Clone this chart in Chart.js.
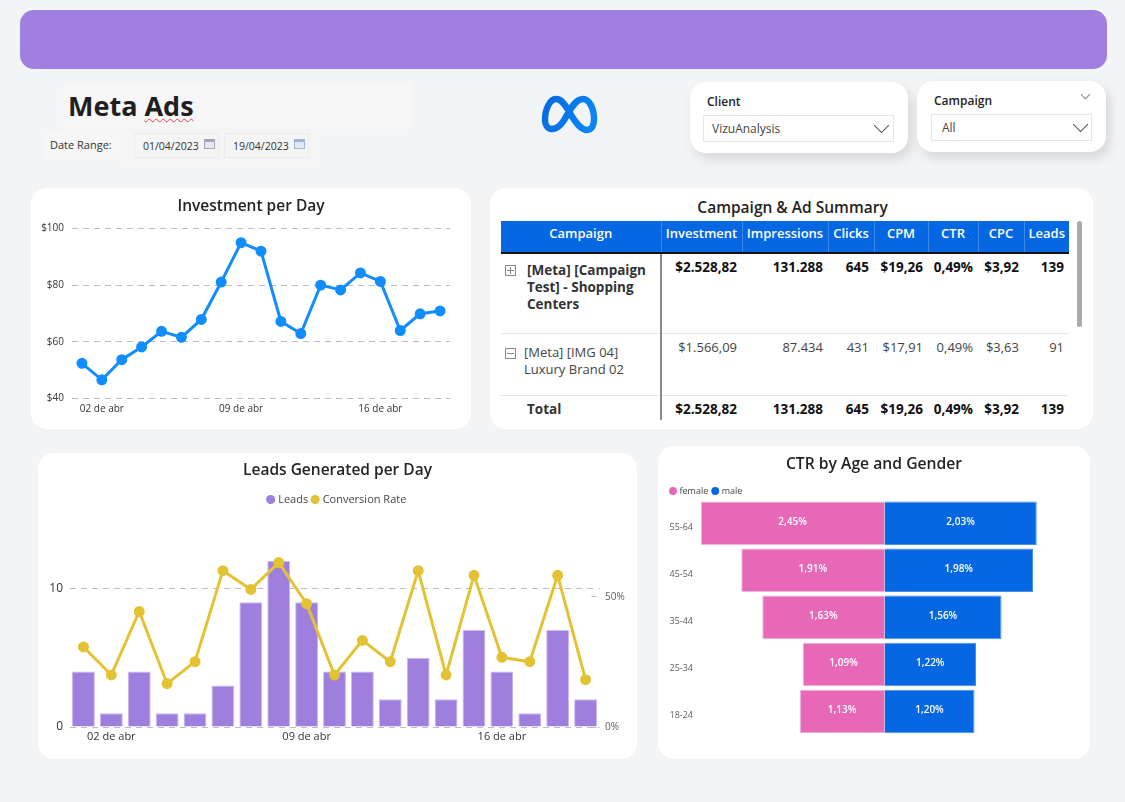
<!DOCTYPE html>
<html>
<head>
<meta charset="utf-8">
<title>Meta Ads</title>
<script src="https://cdn.jsdelivr.net/npm/chart.js@4/dist/chart.umd.min.js"></script>
<style>
  html, body { margin: 0; padding: 0; width: 1125px; height: 802px; overflow: hidden; background: #f3f4f6; font-family: "Open Sans", "Noto Sans", sans-serif; color: #252423; }
  .box { position: absolute; box-sizing: border-box; }
  .card { background: #fff; border-radius: 16px; }
  .shadow { box-shadow: 4px 6px 12px rgba(0,0,0,.12); }
  canvas { position: absolute; }
  #banner { left: 20px; top: 10px; width: 1087px; height: 59px; background: #9f7fe0; border-radius: 14px; }
  #titleBox { left: 63px; top: 82px; width: 348px; height: 47px; background: #f6f6f7; padding: 5px 0 0 5px; font-size: 27px; font-weight: 700; line-height: 38px; color: #201f1e; }
  #titleBox u { text-decoration: underline wavy #e0403c 1px; text-underline-offset: 2px; }
  .dateLbl { left: 45px; top: 132px; width: 79px; height: 27px; background: #f6f6f7; font-size: 11px; padding: 5px 0 0 5px; color: #333; }
  .dateBack { left: 123px; top: 132px; width: 192px; height: 35px; background: #f5f5f6; }
  .dateBox { top: 133px; width: 85px; height: 25px; border: 1px solid #ececee; font-size: 10.5px; padding: 5px 0 0 8px; color: #333; }
  .cal { position: absolute; right: 3px; top: 5px; width: 11px; height: 10px; border: 1px solid #a8a3bd; border-top-width: 3px; box-sizing: border-box; background: #e9e6f2; }
  .slicer { font-size: 12px; font-weight: 600; color: #252423; }
  .slicer .drop { position: absolute; border: 1px solid #e6e6e6; font-weight: 400; font-size: 12px; color: #444; height: 27px; padding: 4px 0 0 8px; box-sizing: border-box; }
  .chev { position: absolute; width: 10px; height: 10px; border-right: 1px solid #555; border-bottom: 1px solid #555; transform: rotate(45deg); }
  table { border-collapse: collapse; table-layout: fixed; font-size: 13px; width: 568px; color: #252423; }
  th { background: #0667e3; color: #fff; font-weight: 600; line-height: 18px; padding: 3px 0 10px 0; border-right: 1px solid #3f87e8; border-bottom: 2px solid #111; font-size: 13px; }
  th:last-child { border-right: 0; }
  td { vertical-align: top; text-align: right; padding: 4px 5px 0 0; white-space: nowrap; }
  td.name { text-align: left; white-space: normal; border-right: 2px solid #8b8b8b; line-height: 17px; position: relative; }
  tr.bold td { font-weight: 700; color: #111; font-size: 13.5px; }
  tr.bold td.name { color: #333; font-size: 13.5px; }
  tr.row2 td { color: #444; }
  tr.row1 td, tr.row2 td { border-bottom: 1px solid #e8e8e8; }
  .exp { position: absolute; left: 4px; width: 11px; height: 11px; border: 1px solid #888; box-sizing: border-box; }
  .exp:before { content: ""; position: absolute; left: 1px; right: 1px; top: 4px; height: 1px; background: #888; }
  .exp.plus:after { content: ""; position: absolute; top: 1px; bottom: 1px; left: 4px; width: 1px; background: #888; }
  #tblTitle { left: 492px; top: 196px; width: 601px; text-align: center; font-size: 15.5px; font-weight: 600; }
  #scroll { left: 1077px; top: 221px; width: 5px; height: 106px; background: #aaa; border-radius: 3px; }
</style>
</head>
<body>
<div class="box" id="banner"></div>
<div class="box" id="titleBox">Meta <u>Ads</u></div>
<div class="box dateBack"></div>
<div class="box dateLbl">Date Range:</div>
<div class="box dateBox" style="left:134px">01/04/2023<span class="cal"></span></div>
<div class="box dateBox" style="left:224px">19/04/2023<span class="cal" style="border-color:#9fb5d6;background:#dfe8f4"></span></div>

<svg class="box" style="left:540px;top:94px" width="60" height="42" viewBox="0 0 60 42">
  <defs><linearGradient id="mg" x1="0" y1="0" x2="1" y2="0.3"><stop offset="0" stop-color="#0668e1"/><stop offset="1" stop-color="#0a85f5"/></linearGradient></defs>
  <path d="M12 35 C7 35 5 30 5 26 C5 15 10 5 16 5 C23 5 27 14 31 21 C36 29 41 36 47 36 C52 36 54 31 54 25 C54 14 49 5 43 5 C36 5 31 14 27 21 C23 29 18 35 12 35 Z" fill="none" stroke="url(#mg)" stroke-width="6.4"/>
</svg>

<div class="box card shadow slicer" style="left:690px;top:82px;width:218px;height:71px">
  <span style="position:absolute;left:17px;top:11px">Client</span>
  <div class="drop" style="left:13px;top:33px;width:191px">VizuAnalysis<span class="chev" style="right:6px;top:4px"></span></div>
</div>
<div class="box card shadow slicer" style="left:917px;top:81px;width:189px;height:71px">
  <span style="position:absolute;left:17px;top:11px">Campaign</span>
  <span class="chev" style="right:17px;top:10px;border-color:#888;width:6px;height:6px"></span>
  <div class="drop" style="left:14px;top:33px;width:161px;padding-left:10px">All<span class="chev" style="right:5px;top:4px"></span></div>
</div>

<div class="box card" style="left:31px;top:188px;width:440px;height:241px"><canvas id="lineChart"></canvas></div>

<div class="box card" style="left:490px;top:188px;width:603px;height:241px"></div>
<div class="box" id="tblTitle">Campaign &amp; Ad Summary</div>
<div class="box" id="tblWrap" style="left:501px;top:221px"></div>
<div class="box" id="scroll"></div>

<div class="box card" style="left:38px;top:453px;width:599px;height:306px"><canvas id="comboChart"></canvas></div>
<div class="box card" style="left:658px;top:446px;width:432px;height:313px"><canvas id="tornadoChart"></canvas></div>

<script>
// line chart
var days = ['01 de abr','02 de abr','03 de abr','04 de abr','05 de abr','06 de abr','07 de abr','08 de abr','09 de abr','10 de abr',
            '11 de abr','12 de abr','13 de abr','14 de abr','15 de abr','16 de abr','17 de abr','18 de abr','19 de abr'];
var shownDays = ['02 de abr','09 de abr','16 de abr'];
var investment = [52.4,46.6,53.7,58.2,63.7,61.6,67.9,81.1,95.0,92.0,67.2,62.9,80.0,78.3,84.3,81.3,64.0,69.9,70.9];
var investTicks = [40,60,80,100];

// combo chart
var leads = [4,1,4,1,1,3,9,12,9,4,4,2,5,2,7,4,1,7,2];
var conversion = [30.8,20,44.4,16.7,25.1,60.1,52.9,63.2,47.4,20,33.3,25.1,60.1,20,58.3,26.8,25.1,58.3,18.2];
var leadTicks = [0,10];
var convTicks = [0,50];

// tornado chart
var ages = ['55-64','45-54','35-44','25-34','18-24'];
var female = [2.45,1.91,1.63,1.09,1.13];
var male = [2.03,1.98,1.56,1.22,1.20];

// table
var tableHead = ['Campaign','Investment','Impressions','Clicks','CPM','CTR','CPC','Leads'];
var tableWidths = [160,81,86,46,54,50,46,45];
var rowCampaign = ['[Meta] [Campaign Test] - Shopping Centers','$2.528,82','131.288','645','$19,26','0,49%','$3,92','139'];
var rowAd = ['[Meta] [IMG 04] Luxury Brand 02','$1.566,09','87.434','431','$17,91','0,49%','$3,63','91'];
var rowTotal = ['Total','$2.528,82','131.288','645','$19,26','0,49%','$3,92','139'];

var uiFont = '"Open Sans", "Noto Sans", sans-serif';
var gridGrey = '#bdbdbd';

function size(id, w, h) {
  var c = document.getElementById(id);
  c.style.width = w + 'px';
  c.style.height = h + 'px';
  c.width = w;
  c.height = h;
  return c;
}

function pctText(v) {
  return v.toFixed(2).replace('.', ',') + '%';
}

function cell(row, i, h) {
  if (i > 0) return '<td>' + row[i] + '</td>';
  return '<td class="name">' + h + '</td>';
}

// legend circles without the dataset's border width
function flatLegend(chart) {
  var items = Chart.defaults.plugins.legend.labels.generateLabels(chart);
  items.forEach(function (it) { it.lineWidth = 0; });
  return items;
}

// titles and legends are centred on the whole card, not on what the right padding leaves
var wholeCard = {
  id: 'wholeCard',
  beforeDraw: function (chart) {
    chart.titleBlock.left = 0;
    chart.titleBlock.right = chart.width;
    if (chart.legend && chart.legend.options.display) {
      chart.legend.left = 0;
      chart.legend.right = chart.width;
    }
  }
};

var html = '<table><colgroup>';
tableWidths.forEach(function (w) { html += '<col style="width:' + w + 'px">'; });
html += '</colgroup><tr>';
tableHead.forEach(function (t) { html += '<th>' + t + '</th>'; });
html += '</tr><tr class="bold row1" style="height:80px">';
rowCampaign.forEach(function (t, i) {
  html += cell(rowCampaign, i, '<span class="exp plus" style="top:11px"></span><div style="padding:4px 0 0 26px">' + t + '</div>');
});
html += '</tr><tr class="row2" style="height:62px">';
rowAd.forEach(function (t, i) {
  html += cell(rowAd, i, '<span class="exp" style="top:14px"></span><div style="padding:6px 0 0 23px;line-height:17px">' + t + '</div>');
});
html += '</tr><tr class="bold" style="height:25px">';
rowTotal.forEach(function (t, i) {
  html += cell(rowTotal, i, '<div style="padding:1px 0 0 26px">' + t + '</div>');
});
html += '</tr></table>';
document.getElementById('tblWrap').innerHTML = html;

new Chart(size('lineChart', 440, 241), {
  type: 'line',
  plugins: [wholeCard],
  data: {
    labels: days,
    datasets: [{
      data: investment,
      borderColor: '#118dff',
      backgroundColor: '#118dff',
      borderWidth: 3,
      pointRadius: 4,
      pointHoverRadius: 4,
      tension: 0
    }]
  },
  options: {
    responsive: false,
    animation: false,
    layout: { padding: { left: 0, right: 21, top: 0, bottom: 9.5 } },
    plugins: {
      legend: { display: false },
      title: { display: true, text: 'Investment per Day', color: '#252423', font: { family: uiFont, size: 15.5, weight: '600' }, padding: { top: 9.7, bottom: 12.2 } }
    },
    scales: {
      x: {
        offset: true,
        border: { display: false },
        grid: { display: false, drawTicks: false },
        ticks: {
          autoSkip: false, maxRotation: 0, padding: 4.5, color: '#333', font: { family: uiFont, size: 10 },
          callback: function (v) { var l = days[v]; return shownDays.indexOf(l) >= 0 ? l : ''; }
        }
      },
      y: {
        min: 40, max: 100,
        afterBuildTicks: function (a) { a.ticks = investTicks.map(function (v) { return { value: v }; }); },
        afterFit: function (a) { a.width = 41; },
        border: { display: false, dash: [6, 5] },
        grid: { color: gridGrey, lineWidth: 1, drawTicks: false },
        ticks: { padding: 8, color: '#333', font: { family: uiFont, size: 10 }, callback: function (v) { return '$' + v; } }
      }
    }
  }
});

new Chart(size('comboChart', 599, 306), {
  plugins: [wholeCard],
  data: {
    labels: days,
    datasets: [
      {
        type: 'line', label: 'Conversion Rate', data: conversion, yAxisID: 'y2', order: 1,
        borderColor: '#e3c234', backgroundColor: '#e3c234', borderWidth: 3, pointRadius: 4, pointHoverRadius: 4, tension: 0
      },
      {
        type: 'bar', label: 'Leads', data: leads, yAxisID: 'y', order: 2,
        backgroundColor: '#9e7fdd', borderColor: '#c9b8ee', borderWidth: 1, barPercentage: 0.82, categoryPercentage: 1
      }
    ]
  },
  options: {
    responsive: false,
    animation: false,
    layout: { padding: { left: 0, right: 10, top: 0, bottom: 12 } },
    plugins: {
      title: { display: true, text: 'Leads Generated per Day', color: '#252423', font: { family: uiFont, size: 15.5, weight: '600' }, padding: { top: 8.7, bottom: 8.7 } },
      legend: {
        display: true,
        reverse: true,
        labels: { usePointStyle: true, pointStyle: 'circle', boxWidth: 4, boxHeight: 6.4, padding: 5, color: '#444', font: { family: uiFont, size: 11 }, generateLabels: flatLegend }
      }
    },
    scales: {
      x: {
        border: { display: false },
        grid: { display: false, drawTicks: false },
        ticks: {
          autoSkip: false, maxRotation: 0, padding: 3.4, color: '#333', font: { family: uiFont, size: 11 },
          callback: function (v) { var l = days[v]; return shownDays.indexOf(l) >= 0 ? l : ''; }
        }
      },
      y: {
        min: 0, max: 15.3,
        afterBuildTicks: function (a) { a.ticks = leadTicks.map(function (v) { return { value: v }; }); },
        afterFit: function (a) { a.width = 31.5; },
        border: { display: false, dash: [6, 5] },
        grid: { color: gridGrey, drawTicks: false },
        ticks: { padding: 6.5, color: '#333', font: { family: uiFont, size: 12 } }
      },
      y2: {
        position: 'right',
        min: 0, max: 81.5,
        afterBuildTicks: function (a) { a.ticks = convTicks.map(function (v) { return { value: v }; }); },
        afterFit: function (a) { a.width = 27.5; },
        // only the short dash just before the axis end shows on the plot
        border: { display: false, dash: [0, 522, 5, 40] },
        grid: { color: gridGrey, drawTicks: false },
        ticks: { padding: 5.5, color: '#605e5c', font: { family: uiFont, size: 10 }, callback: function (v) { return v + '%'; } }
      }
    }
  }
});

var barText = {
  id: 'barText',
  beforeDraw: function (chart) {
    // the legend sits further left and lower than the centred title allows
    chart.titleBlock.left = 0;
    chart.titleBlock.right = chart.width;
    chart.legend.left = 8;
    chart.legend.top = 35.5;
  },
  afterDatasetsDraw: function (chart) {
    var ctx = chart.ctx;
    ctx.save();
    ctx.fillStyle = '#fff';
    ctx.font = '600 10px ' + uiFont;
    ctx.textAlign = 'center';
    ctx.textBaseline = 'middle';
    chart.data.datasets.forEach(function (ds, d) {
      chart.getDatasetMeta(d).data.forEach(function (bar, i) {
        ctx.fillText(pctText(Math.abs(ds.data[i])), (bar.x + bar.base) / 2, bar.y - 1);
      });
    });
    ctx.restore();
  }
};

new Chart(size('tornadoChart', 432, 313), {
  type: 'bar',
  plugins: [barText],
  data: {
    labels: ages,
    datasets: [
      { label: 'female', data: female.map(function (v) { return -v; }), backgroundColor: '#e668b7', borderColor: '#f3b4db', borderWidth: 1, barPercentage: 0.925, categoryPercentage: 1 },
      { label: 'male', data: male, backgroundColor: '#0667e3', borderColor: '#4a90ea', borderWidth: 1, barPercentage: 0.925, categoryPercentage: 1 }
    ]
  },
  options: {
    responsive: false,
    animation: false,
    indexAxis: 'y',
    layout: { padding: { left: 0, right: 18, top: 0, bottom: 24 } },
    plugins: {
      title: { display: true, text: 'CTR by Age and Gender', color: '#252423', font: { family: uiFont, size: 15.7, weight: '600' }, padding: { top: 9.6, bottom: 1.3 } },
      legend: {
        display: true,
        align: 'start',
        labels: { usePointStyle: true, pointStyle: 'circle', boxWidth: 4, boxHeight: 5.6, padding: 5, color: '#444', font: { family: uiFont, size: 9 }, generateLabels: flatLegend }
      }
    },
    scales: {
      x: { stacked: true, display: false, min: -2.5, max: 2.5 },
      y: {
        stacked: true,
        afterFit: function (a) { a.width = 39; },
        border: { display: false },
        grid: { display: false, drawTicks: false },
        ticks: { labelOffset: 4, padding: 4, color: '#605e5c', font: { family: uiFont, size: 9 } }
      }
    }
  }
});
</script>
</body>
</html>
